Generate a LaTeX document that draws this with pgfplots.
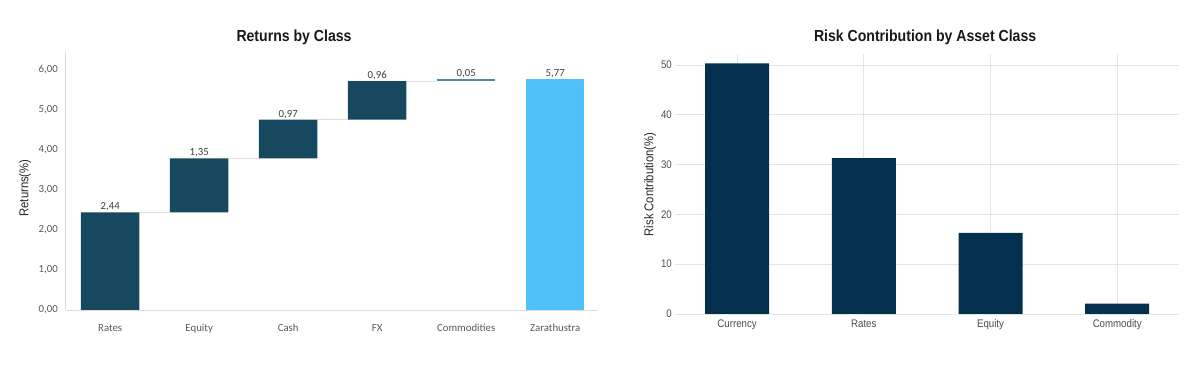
\documentclass[border=0pt]{standalone}
\usepackage{fontspec}
\setmainfont{Liberation Sans}
\newfontfamily\calfont{Carlito}
\newfontfamily\narrow[FakeStretch=0.88]{Liberation Sans}
\usepackage{pgfplots}
\pgfplotsset{compat=1.18}
\definecolor{wfteal}{HTML}{16495F}
\definecolor{wfsteel}{HTML}{5A88A0}
\definecolor{wflight}{HTML}{50C1FA}
\definecolor{wfnavy}{HTML}{05304D}
\definecolor{wfgray}{HTML}{595959}
\begin{document}
\begin{tikzpicture}
\path[use as bounding box] (0,0) rectangle (1200bp,365bp);
% ---------------- Left: Returns by Class ----------------
\begin{axis}[
  at={(65.7bp,55bp)}, anchor=south west,
  scale only axis, width=532.2bp, height=258.4bp,
  xmin=-0.5, xmax=5.48, ymin=0, ymax=6.46,
  ybar stacked, bar width=58.5bp,
  axis x line*=bottom, axis y line*=left,
  axis line style={draw=black!14, line width=1bp},
  major tick length=0pt,
  xtick={0,1,2,3,4,5},
  xticklabels={Rates,Equity,Cash,FX,Commodities,Zarathustra},
  ytick={0,1,2,3,4,5,6},
  yticklabels={{0,00},{1,00},{2,00},{3,00},{4,00},{5,00},{6,00}},
  tick label style={font=\calfont\fontsize{10.8bp}{12bp}\selectfont, text=wfgray, inner sep=0pt},
  xticklabel style={anchor=base, yshift=-21.5bp},
  yticklabel style={anchor=east, xshift=-7.7bp},
  title={Returns by Class},
  title style={at={(rel axis cs:0.429,1.033)}, anchor=center, inner sep=0pt,
    font=\narrow\bfseries\fontsize{16bp}{18bp}\selectfont, text=black!90},
  ylabel={Returns(\%)},
  ylabel style={at={(rel axis cs:-0.0765,0.472)}, anchor=center, inner sep=0pt,
    font=\narrow\fontsize{12.8bp}{14bp}\selectfont, text=black!85},
]
\addplot[draw=none, fill=none] coordinates {(0,0) (1,2.44) (2,3.79) (3,4.76) (4,5.72) (5,0)};
\addplot[draw=none, fill=wfteal] coordinates {(0,2.44) (1,1.35) (2,0.97) (3,0.96) (4,0) (5,0)};
\addplot[draw=none, fill=wfsteel] coordinates {(0,0) (1,0) (2,0) (3,0) (4,0.05) (5,0)};
\addplot[draw=none, fill=wflight] coordinates {(0,0) (1,0) (2,0) (3,0) (4,0) (5,5.77)};
\end{axis}
\begin{axis}[
  at={(65.7bp,55bp)}, anchor=south west,
  scale only axis, width=532.2bp, height=258.4bp,
  xmin=-0.5, xmax=5.48, ymin=0, ymax=6.46,
  hide axis, clip=false,
]
\addplot[draw=black!13, line width=1.2bp, unbounded coords=jump] coordinates {
  (0.33,2.44) (0.67,2.44) (1,nan)
  (1.33,3.79) (1.67,3.79) (2,nan)
  (2.33,4.76) (2.67,4.76) (3,nan)
  (3.33,5.72) (3.67,5.72)};
\addplot[draw=none, mark=none, nodes near coords, point meta=explicit symbolic,
  nodes near coords style={anchor=base, yshift=2.5bp, inner sep=0pt,
    font=\calfont\fontsize{10.8bp}{12bp}\selectfont, text=black!75}]
  table[meta=lab, row sep=\\] {
  x y lab \\
  0 2.44 2,44 \\
  1 3.79 1,35 \\
  2 4.76 0,97 \\
  3 5.72 0,96 \\
  4 5.77 0,05 \\
  5 5.77 5,77 \\
  };
\end{axis}
% ---------------- Right: Risk Contribution ----------------
\begin{axis}[
  at={(675bp,51bp)}, anchor=south west,
  scale only axis, width=504.3bp, height=260bp,
  xmin=-0.49, xmax=3.49, ymin=0, ymax=52.2,
  ybar, bar width=64bp,
  axis line style={draw=none},
  major tick length=0pt,
  grid=major, major grid style={draw=black!10, line width=0.9bp},
  xtick={0,1,2,3},
  xticklabels={Currency,Rates,Equity,Commodity},
  ytick={0,10,20,30,40,50},
  /pgf/number format/assume math mode=true,
  tick label style={font=\narrow\fontsize{11bp}{12bp}\selectfont, text=black!70, inner sep=0pt},
  xticklabel style={anchor=base, yshift=-13.5bp},
  yticklabel style={anchor=east, xshift=-3bp},
  title={Risk Contribution by Asset Class},
  title style={at={(rel axis cs:0.496,1.042)}, anchor=center, inner sep=0pt,
    font=\narrow\bfseries\fontsize{16bp}{18bp}\selectfont, text=black!90},
  ylabel={Risk Contribution(\%)},
  ylabel style={at={(rel axis cs:-0.0496,0.498)}, anchor=center, inner sep=0pt,
    font=\narrow\fontsize{12.8bp}{14bp}\selectfont, text=black!85},
]
\addplot[draw=none, fill=wfnavy] coordinates {(0,50.3) (1,31.3) (2,16.3) (3,2.1)};
\end{axis}
\end{tikzpicture}
\end{document}
